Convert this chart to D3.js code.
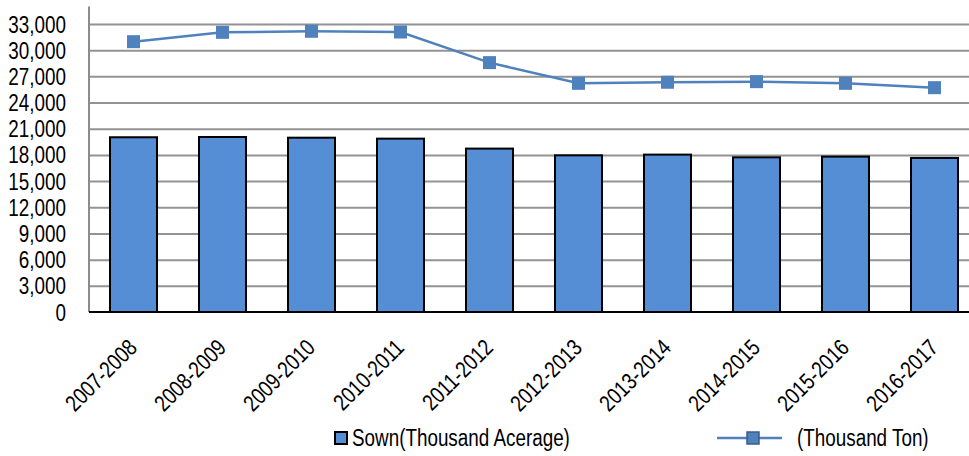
<!DOCTYPE html>
<meta charset="utf-8">
<style>
body { margin: 0; background: #fff; }
svg { display: block; }
text { font-family: "Liberation Sans Narrow", "Arial Narrow", "Liberation Sans", sans-serif; fill: #000; }
.grid line { stroke: #939393; stroke-width: 2; }
.grid .domain { display: none; }
.bar { fill: #558ED5; stroke: #000; stroke-width: 2; }
</style>
<svg width="969" height="456"></svg>
<script src="https://cdn.jsdelivr.net/npm/d3@7"></script>
<script>

var seasons = ["2007-2008", "2008-2009", "2009-2010", "2010-2011", "2011-2012",
               "2012-2013", "2013-2014", "2014-2015", "2015-2016", "2016-2017"];
var sown = [20020, 20050, 19970, 19860, 18720, 17950, 18030, 17720, 17800, 17650];
var production = [30970, 32040, 32160, 32080, 28570, 26200, 26320, 26390, 26200, 25700];
var yTicks = [0, 3000, 6000, 9000, 12000, 15000, 18000, 21000, 24000, 27000, 30000, 33000];

var svg = d3.select("svg"),
    width = +svg.attr("width"),
    left = 89,
    bottom = 312,
    fontSize = "23px",
    squeeze = 0.82; // no narrow font installed, so squeeze the text

var x = d3.scaleBand()
    .domain(seasons)
    .range([left, left + 890])
    .paddingInner(0.472)
    .paddingOuter(0.236);

var y = d3.scaleLinear()
    .domain([0, 35000])
    .range([bottom, bottom - 305.5]);

// gridlines
svg.append("g")
    .attr("class", "grid")
    .attr("transform", "translate(" + left + ",0)")
    .call(d3.axisLeft(y).tickValues(yTicks.slice(1)).tickSize(-(width - left)).tickFormat(""));

// y labels
var yAxis = svg.append("g")
    .attr("transform", "translate(" + left + ",0)")
    .call(d3.axisLeft(y).tickValues(yTicks).tickSize(0).tickFormat(d3.format(",")));
yAxis.select(".domain").remove();
yAxis.selectAll("text")
    .style("font-size", fontSize)
    .attr("x", -23 / squeeze)
    .attr("dy", "0.35em")
    .attr("transform", "scale(" + squeeze + ",1)");

svg.append("line")
    .attr("x1", left).attr("x2", left)
    .attr("y1", y.range()[1]).attr("y2", bottom)
    .attr("stroke", "#8c8c8c").attr("stroke-width", 2);

// bars
svg.selectAll(".bar")
  .data(sown)
  .enter().append("rect")
    .attr("class", "bar")
    .attr("x", function(d, i) { return x(seasons[i]); })
    .attr("width", x.bandwidth())
    .attr("y", function(d) { return y(d); })
    .attr("height", function(d) { return bottom - y(d); });

svg.append("line")
    .attr("x1", left).attr("x2", width)
    .attr("y1", bottom).attr("y2", bottom)
    .attr("stroke", "#000").attr("stroke-width", 2);

// x labels
svg.append("g").selectAll("text")
  .data(seasons)
  .enter().append("text")
    .attr("transform", function(d) {
      return "translate(" + (x(d) + x.bandwidth() / 2 + 5) + ",349) rotate(-45) scale(" + squeeze + ",1)";
    })
    .attr("text-anchor", "end")
    .style("font-size", fontSize)
    .text(function(d) { return d; });

// line series
var cx = function(i) { return x(seasons[i]) + x.bandwidth() / 2; };
svg.append("path")
    .datum(production)
    .attr("fill", "none")
    .attr("stroke", "#4F81BD")
    .attr("stroke-width", 2.5)
    .attr("d", d3.line().x(function(d, i) { return cx(i); }).y(function(d) { return y(d); }));

svg.selectAll(".marker")
  .data(production)
  .enter().append("rect")
    .attr("class", "marker")
    .attr("x", function(d, i) { return cx(i) - 6.5; })
    .attr("y", function(d) { return y(d) - 6.5; })
    .attr("width", 13)
    .attr("height", 13)
    .attr("fill", "#4F81BD");

// legend
var lg = svg.append("g");
lg.append("rect")
    .attr("x", 335).attr("y", 432).attr("width", 12).attr("height", 12)
    .attr("fill", "#558ED5").attr("stroke", "#000").attr("stroke-width", 2);
lg.append("text")
    .attr("transform", "translate(352,446) scale(" + squeeze + ",1)")
    .style("font-size", fontSize)
    .text("Sown(Thousand Acerage)");
lg.append("line")
    .attr("x1", 717).attr("x2", 782).attr("y1", 438).attr("y2", 438)
    .attr("stroke", "#4F81BD").attr("stroke-width", 2.5);
lg.append("rect")
    .attr("x", 747).attr("y", 432).attr("width", 12).attr("height", 12)
    .attr("fill", "#4F81BD").attr("stroke", "#385D8A").attr("stroke-width", 1.5);
lg.append("text")
    .attr("transform", "translate(797,446) scale(" + squeeze + ",1)")
    .style("font-size", fontSize)
    .text("(Thousand Ton)");

</script>
